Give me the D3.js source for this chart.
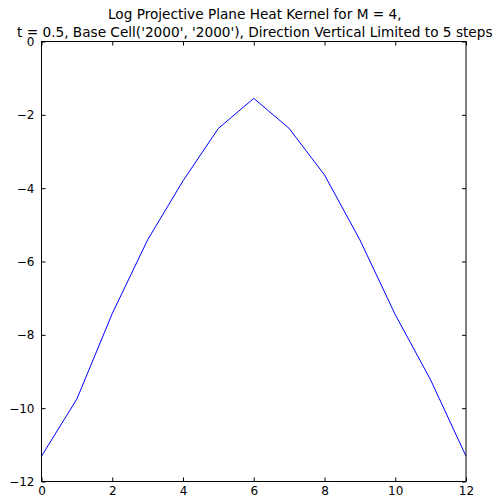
<!DOCTYPE html>
<html>
<head>
<meta charset="utf-8">
<script src="https://cdn.jsdelivr.net/npm/d3@7"></script>
<style>
  html, body { margin: 0; padding: 0; background: #fff; }
  svg { display: block; }
  text { font-family: "DejaVu Sans", sans-serif; fill: #000; }
</style>
</head>
<body>
<script>
const xs = [0, 1, 2, 3, 4, 5, 6, 7, 8, 9, 10, 11, 12];
const values = [-11.31, -9.75, -7.42, -5.41, -3.80, -2.37, -1.55, -2.37, -3.64, -5.41, -7.45, -9.23, -11.31];
const xTicks = [0, 2, 4, 6, 8, 10, 12];
const yTicks = [0, -2, -4, -6, -8, -10, -12];
const titleLines = ["Log Projective Plane Heat Kernel for M = 4,",
                    "t = 0.5, Base Cell('2000', '2000'), Direction Vertical Limited to 5 steps"];

const W = 501, H = 498;
const m = {left: 41.5, right: 466, top: 41.5, bottom: 481.5};

const svg = d3.select("body").append("svg").attr("width", W).attr("height", H);

const x = d3.scaleLinear().domain([0, 12]).range([m.left, m.right]);
const y = d3.scaleLinear().domain([-12, 0]).range([m.bottom, m.top]);

const fmt = d => (d < 0 ? "\u2212" + Math.abs(d) : String(d));

// line
svg.append("path")
  .datum(xs.map((d, i) => [d, values[i]]))
  .attr("fill", "none")
  .attr("stroke", "#0000ff")
  .attr("stroke-width", 1)
  .attr("d", d3.line().x(d => x(d[0])).y(d => y(d[1])));

// axes with inward ticks
const tl = 4;
svg.append("g").attr("transform", `translate(0,${m.bottom})`)
  .call(d3.axisBottom(x).tickValues(xTicks).tickSizeInner(-tl).tickSizeOuter(0).tickPadding(5).tickFormat(fmt))
  .call(g => g.select(".domain").remove())
  .call(g => g.selectAll("text").attr("font-size", 12).attr("dy", "0.71em"));
svg.append("g").attr("transform", `translate(0,${m.top})`)
  .call(d3.axisTop(x).tickValues(xTicks).tickSizeInner(-tl).tickSizeOuter(0).tickFormat(""))
  .call(g => g.select(".domain").remove());
svg.append("g").attr("transform", `translate(${m.left},0)`)
  .call(d3.axisLeft(y).tickValues(yTicks).tickSizeInner(-tl).tickSizeOuter(0).tickPadding(7).tickFormat(fmt))
  .call(g => g.select(".domain").remove())
  .call(g => g.selectAll("text").attr("font-size", 12));
svg.append("g").attr("transform", `translate(${m.right},0)`)
  .call(d3.axisRight(y).tickValues(yTicks).tickSizeInner(-tl).tickSizeOuter(0).tickFormat(""))
  .call(g => g.select(".domain").remove());

svg.selectAll(".tick line").attr("stroke", "#000");

// frame
svg.append("rect")
  .attr("x", m.left).attr("y", m.top)
  .attr("width", m.right - m.left).attr("height", m.bottom - m.top)
  .attr("fill", "none").attr("stroke", "#000").attr("stroke-width", 1);

// title: size chosen so that the long line is ~476px wide
const title = svg.append("text")
  .attr("text-anchor", "middle")
  .attr("font-size", 14);
const spans = title.selectAll("tspan").data(titleLines).join("tspan")
  .attr("x", (m.left + m.right) / 2 + 1)
  .attr("y", (d, i) => 19 + i * 17.5)
  .text(d => d);
const w2 = spans.nodes()[1].getComputedTextLength();
if (w2 > 0) title.attr("font-size", 14 * 476 / w2);
</script>
</body>
</html>
